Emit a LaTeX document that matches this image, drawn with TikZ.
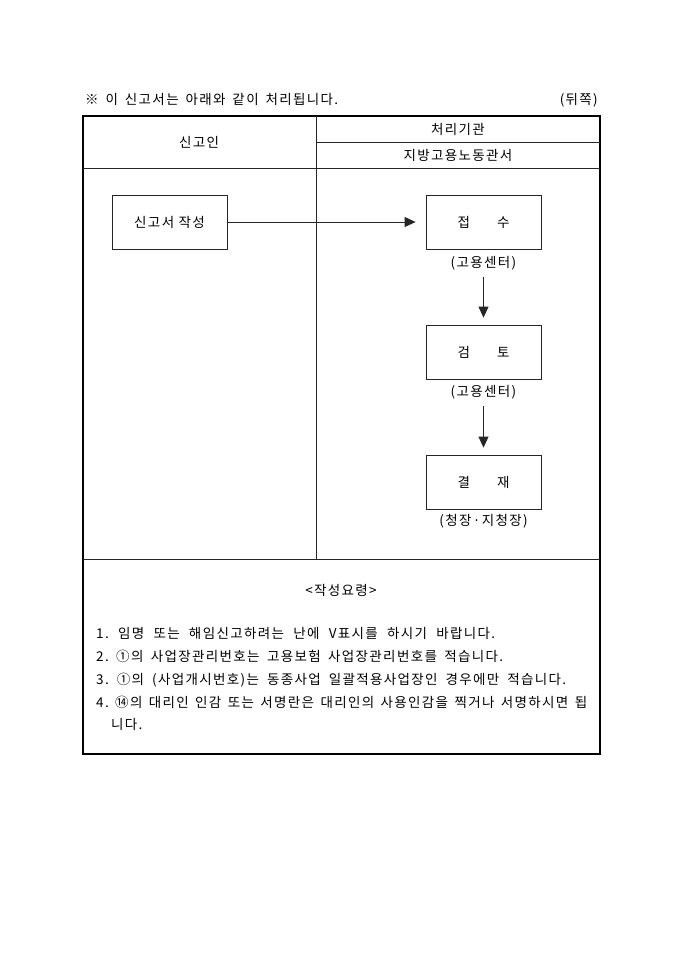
\documentclass[tikz,border=0pt]{standalone}
\usepackage{fontspec}
\setmainfont[LetterSpace=10]{Noto Sans CJK KR}
\usetikzlibrary{arrows.meta}
\newcommand{\fitline}[2]{\makebox[#1][s]{#2}}
\frenchspacing
\begin{document}
\begin{tikzpicture}[x=1pt,y=-1pt,
  every node/.style={font=\fontsize{13.5}{16}\selectfont, inner sep=0pt},
  procbox/.style={draw=black!85, line width=0.8pt, minimum width=115pt, minimum height=54pt},
  rule/.style={draw=black!85, line width=0.8pt},
  flow/.style={draw=black!85, line width=0.8pt, -{Triangle[length=11pt,width=10pt]}},
  txt/.style={anchor=base west}]
\useasboundingbox[fill=white] (0,0) rectangle (680,962);
% title
\node[txt] (title) at (85,104) {\fitline{253pt}{※ 이 신고서는 아래와 같이 처리됩니다.}};
\node[anchor=base east] (side) at (598,104) {(뒤쪽)};
% table frame
\draw[line width=1.6pt] (83,116) rectangle (600,754);
\draw[rule] (316,116) -- (316,559);
\draw[rule] (316,142) -- (600,142);
\draw[rule] (83,168) -- (600,168);
\draw[rule] (83,559) -- (600,559);
% headers
\node (h1) at (199,142) {신고인};
\node (h2) at (458,129) {처리기관};
\node (h3) at (458,155) {지방고용노동관서};
% boxes
\node[procbox] (a) at (169.5,222) {신고서 작성};
\node[procbox] (b) at (483.5,222) {접\hspace{2em}수};
\node[procbox] (c) at (483.5,352) {검\hspace{2em}토};
\node[procbox] (d) at (483.5,482) {결\hspace{2em}재};
\node (lb) at (483.5,263) {(고용센터)};
\node (lc) at (483.5,392) {(고용센터)};
\node (ld) at (483.5,521) {(청장·지청장)};
% arrows
\draw[flow, shorten >=10pt] (a.east) -- (b.west);
\draw[flow, shorten <=7pt, shorten >=7pt] (lb.south) -- (b.south |- c.north);
\draw[flow, shorten <=7pt, shorten >=7pt] (lc.south) -- (c.south |- d.north);
% notes
\node (nh) at (341,590) {<작성요령>};
\node[txt] (n1) at (96,638) {\fitline{399pt}{1. 임명 또는 해임신고하려는 난에 V표시를 하시기 바랍니다.}};
\node[txt] (n2) at (96,661) {\fitline{407pt}{2. ①의 사업장관리번호는 고용보험 사업장관리번호를 적습니다.}};
\node[txt] (n3) at (96,684) {\fitline{470pt}{3. ①의 (사업개시번호)는 동종사업 일괄적용사업장인 경우에만 적습니다.}};
\node[txt] (n4) at (96,707) {\fitline{491pt}{4. ⑭의 대리인 인감 또는 서명란은 대리인의 사용인감을 찍거나 서명하시면 됩}};
\node[txt] (n5) at (111,729) {니다.};
\end{tikzpicture}
\end{document}
